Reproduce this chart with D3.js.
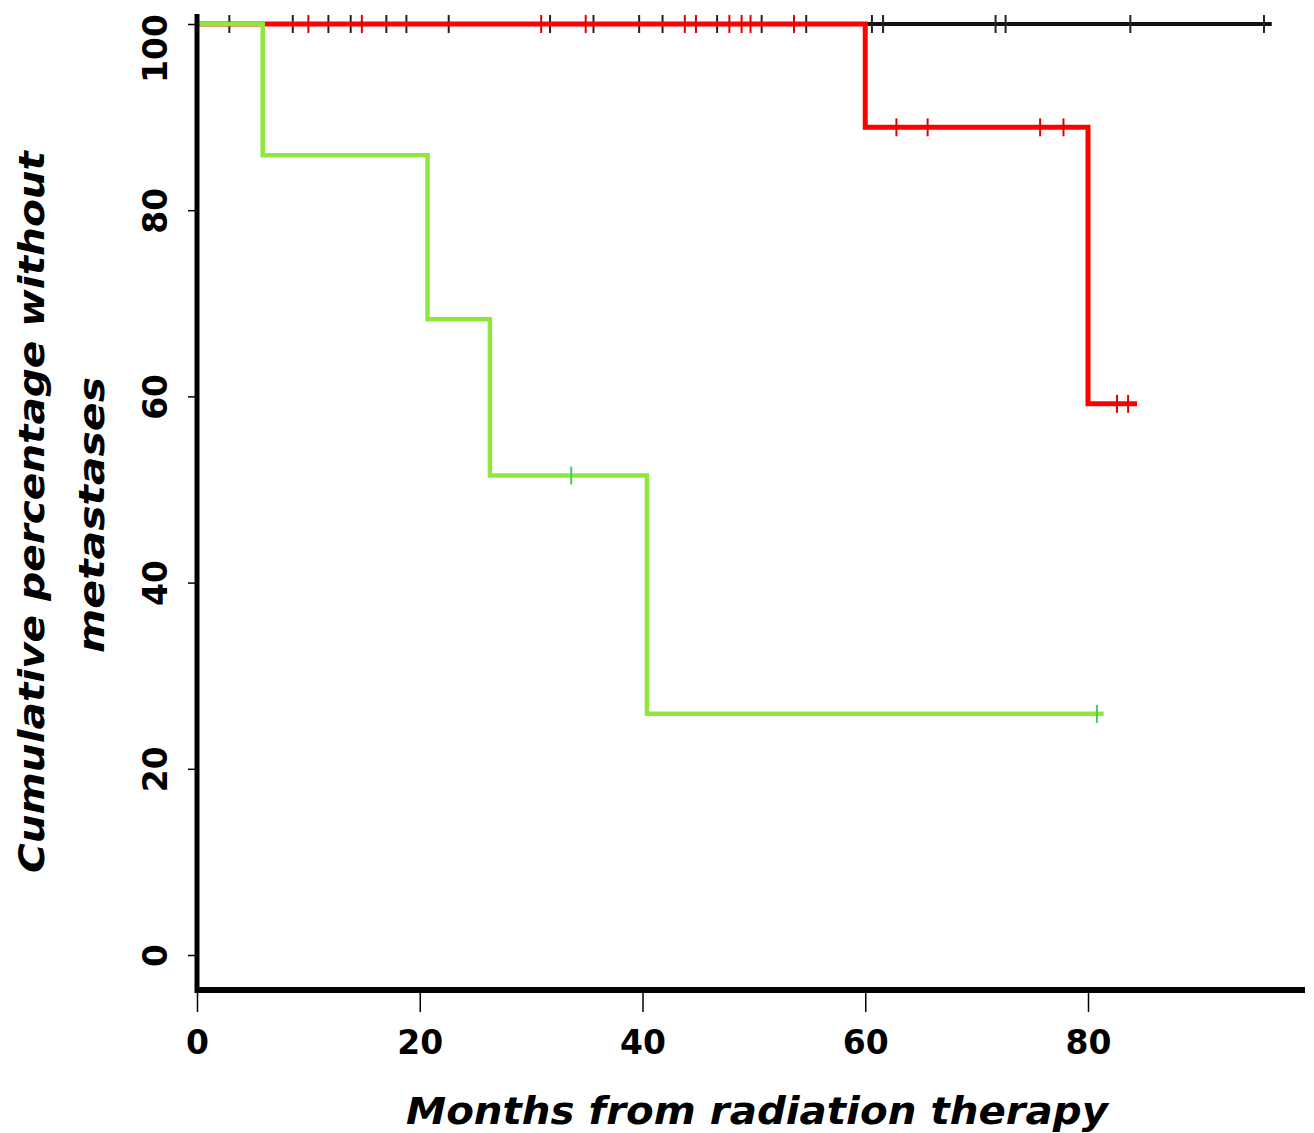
<!DOCTYPE html>
<html>
<head>
<meta charset="utf-8">
<script src="https://cdn.jsdelivr.net/npm/d3@7"></script>
<style>
  body { margin: 0; background: #fff; }
  svg { display: block; }
</style>
</head>
<body>
<svg id="chart" width="1314" height="1133"></svg>
<script>
// tick labels
var xTicks = [0, 20, 40, 60, 80];
var yTicks = [0, 20, 40, 60, 80, 100];

// step curves: [month, percent]
var blackSteps = [[0, 100], [96.5, 100]];
var redSteps = [[0, 100], [60, 88.9], [80, 59.2], [84.4, 59.2]];
var greenSteps = [[0, 100], [5.9, 85.9], [20.7, 68.3], [26.3, 51.5], [40.4, 25.9], [81.4, 25.9]];

// censored cases (months)
var blackCensor = [2.9, 8.6, 11.8, 13.8, 17.0, 18.8, 22.6, 31.7, 35.6, 39.7, 41.8, 46.7, 50.7, 54.7, 60.6, 61.6, 71.7, 72.6, 83.8, 95.8];
var redCensor = [10.0, 14.8, 30.9, 34.9, 43.8, 44.8, 47.8, 48.9, 49.7, 53.6, 62.8, 65.6, 75.7, 77.8, 82.6, 83.6];
var greenCensor = [33.6, 80.8];

var svg = d3.select("#chart");

var x = d3.scaleLinear().domain([0, 80]).range([197, 1088]);
var y = d3.scaleLinear().domain([0, 100]).range([955, 24]);

// value of a step curve at month t
function stepAt(steps, t) {
  var v = steps[0][1];
  steps.forEach(function(s) { if (s[0] <= t) v = s[1]; });
  return v;
}

var line = d3.line()
  .x(function(d) { return x(d[0]); })
  .y(function(d) { return y(d[1]); })
  .curve(d3.curveStepAfter);

var series = [
  { steps: blackSteps, censor: blackCensor, color: "#111", width: 4, tick: "#222" },
  { steps: redSteps, censor: redCensor, color: "#ff0000", width: 5, tick: "#e00000" },
  { steps: greenSteps, censor: greenCensor, color: "#8ee83c", width: 4.5, tick: "#3fcf5a" }
];

series.forEach(function(s) {
  svg.append("path")
    .datum(s.steps)
    .attr("d", line)
    .attr("fill", "none")
    .attr("stroke", s.color)
    .attr("stroke-width", s.width);

  svg.selectAll(null)
    .data(s.censor)
    .enter()
    .append("line")
    .attr("x1", function(d) { return x(d); })
    .attr("x2", function(d) { return x(d); })
    .attr("y1", function(d) { return y(stepAt(s.steps, d)) - 9; })
    .attr("y2", function(d) { return y(stepAt(s.steps, d)) + 9; })
    .attr("stroke", s.tick)
    .attr("stroke-width", 2);
});

var tickFont = "'DejaVu Sans', sans-serif";

// axes
var xAxis = d3.axisBottom(x).tickValues(xTicks).tickSize(20).tickPadding(19);
var gx = svg.append("g").attr("transform", "translate(0,992)").call(xAxis);
gx.select(".domain").remove();
gx.selectAll(".tick line").attr("stroke", "#000").attr("stroke-width", 1.5);
gx.selectAll(".tick text")
  .attr("font-family", tickFont)
  .attr("font-weight", "bold")
  .attr("font-size", 33)
  .attr("fill", "#000");

var yAxis = d3.axisLeft(y).tickValues(yTicks).tickSize(9).tickPadding(0);
var gy = svg.append("g").attr("transform", "translate(197,0)").call(yAxis);
gy.select(".domain").remove();
gy.selectAll(".tick line").attr("stroke", "#000").attr("stroke-width", 1.5);
gy.selectAll(".tick text")
  .attr("font-family", tickFont)
  .attr("font-weight", "bold")
  .attr("font-size", 33)
  .attr("fill", "#000")
  .attr("text-anchor", "middle")
  .attr("dy", 0)
  .attr("x", 0)
  .attr("y", 12)
  .attr("transform", function(d) {
    // the top label sits lower so it stays inside the picture
    var shift = d === 100 ? 24 : 0;
    return "translate(-42," + shift + ") rotate(-90)";
  });

// axis frame lines
svg.append("line").attr("x1", 197).attr("x2", 197).attr("y1", 14).attr("y2", 993)
  .attr("stroke", "#000").attr("stroke-width", 5);
svg.append("line").attr("x1", 195).attr("x2", 1305).attr("y1", 990).attr("y2", 990)
  .attr("stroke", "#000").attr("stroke-width", 6);

// titles
var titleFont = "'DejaVu Sans', sans-serif";

svg.append("text")
  .attr("x", 757).attr("y", 1124)
  .attr("text-anchor", "middle")
  .attr("font-family", titleFont)
  .attr("font-weight", "bold")
  .attr("font-style", "italic")
  .attr("font-size", 37)
  .attr("textLength", 702)
  .attr("lengthAdjust", "spacingAndGlyphs")
  .text("Months from radiation therapy");

svg.append("text")
  .attr("transform", "translate(44,512) rotate(-90)")
  .attr("text-anchor", "middle")
  .attr("font-family", titleFont)
  .attr("font-weight", "bold")
  .attr("font-style", "italic")
  .attr("font-size", 36)
  .attr("textLength", 722)
  .attr("lengthAdjust", "spacingAndGlyphs")
  .text("Cumulative percentage without");

svg.append("text")
  .attr("transform", "translate(104,515) rotate(-90)")
  .attr("text-anchor", "middle")
  .attr("font-family", titleFont)
  .attr("font-weight", "bold")
  .attr("font-style", "italic")
  .attr("font-size", 36)
  .attr("textLength", 276)
  .attr("lengthAdjust", "spacingAndGlyphs")
  .text("metastases");
</script>
</body>
</html>
